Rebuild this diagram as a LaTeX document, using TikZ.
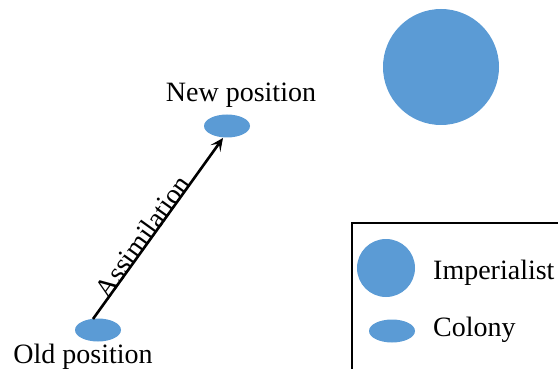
\documentclass[tikz,border=0pt]{standalone}
\usepackage{fontspec}
\setmainfont{Liberation Serif}
\usetikzlibrary{arrows.meta,shapes.geometric}
\definecolor{blob}{HTML}{5B9BD5}
\begin{document}
\begin{tikzpicture}[x=1pt,y=-1pt,
  colony/.style={ellipse,fill=blob,draw=none,minimum width=46pt,minimum height=23pt,inner sep=0pt},
  imperial/.style={circle,fill=blob,draw=none,inner sep=0pt},
  lbl/.style={font=\fontsize{28}{32}\selectfont,inner sep=0pt},
  move/.style={-{Stealth[length=13pt,width=12pt,inset=6pt]},line width=2.6pt}]
\useasboundingbox (0,0) rectangle (558,369);
% main scene
\node[imperial,minimum size=116pt] (emp) at (441,67) {};
\node[colony] (old) at (98,330) {};
\node[colony] (new) at (227,126) {};
\node[lbl,anchor=base] (oldtxt) at (83,363) {Old position};
\node[lbl,anchor=base] (newtxt) at (241,102) {New position};
\coordinate (tail) at (93,319);
\coordinate (tip) at (223,138);
\draw[move] (tail) -- node[lbl,sloped,above=-3pt,pos=0.43] (assim) {Assimilation} (tip);
% legend
\draw[line width=1.3pt] (352,380) -- (352,223) -- (570,223);
\node[imperial,minimum size=58pt] (legemp) at (386,268) {};
\node[colony] (legcol) at (392,331) {};
\node[lbl,anchor=base west] (legemptxt) at (433,279) {Imperialist};
\node[lbl,anchor=base west] (legcoltxt) at (433,336) {Colony};
\end{tikzpicture}
\end{document}
